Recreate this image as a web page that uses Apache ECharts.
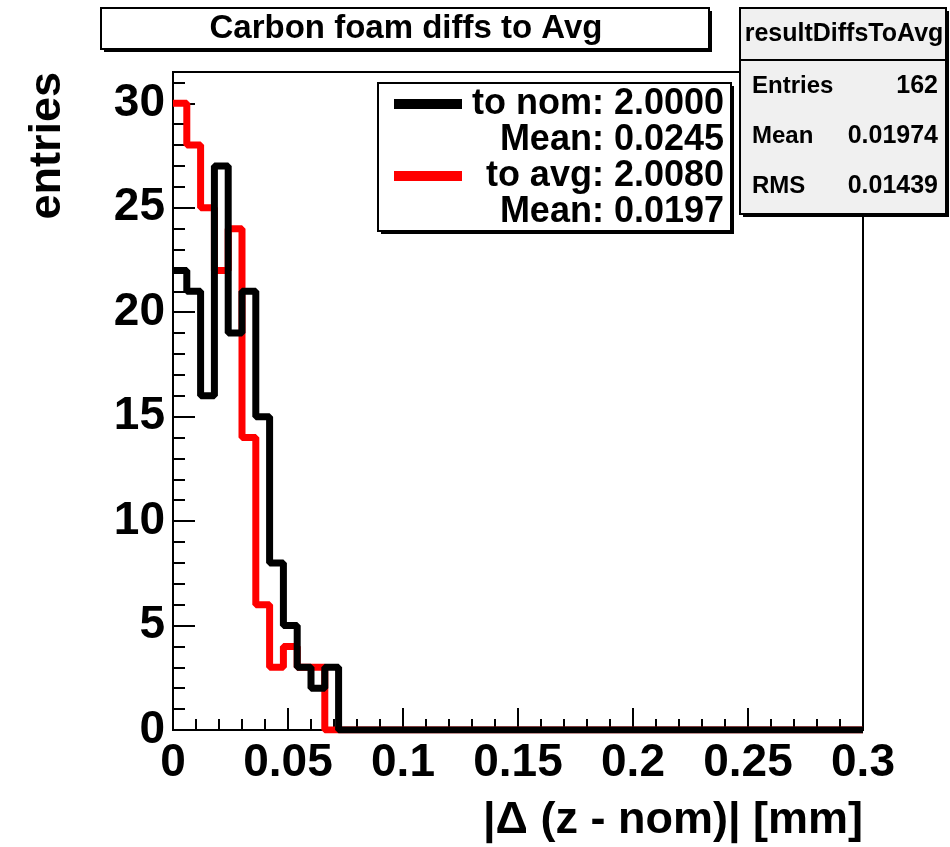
<!DOCTYPE html>
<html>
<head>
<meta charset="utf-8">
<script src="https://cdn.jsdelivr.net/npm/echarts@6/dist/echarts.min.js"></script>
<style>
  html, body { margin: 0; padding: 0; background: #fff; }
  #chart { width: 950px; height: 847px; }
</style>
</head>
<body>
<div id="chart"></div>
<script>
// histogram: 50 bins over [0, 0.3]
var binWidth = 0.006;
var xMax = 0.3;
var toNomCounts = [22, 21, 16, 27, 19, 21, 15, 8, 5, 3, 2, 3];
var toAvgCounts = [30, 28, 25, 22, 24, 14, 6, 3, 4, 3, 3];

var titleText = "Carbon foam diffs to Avg";
var legendLines = ["to nom: 2.0000", "Mean: 0.0245", "to avg: 2.0080", "Mean: 0.0197"];
var statsName = "resultDiffsToAvg";
var statsLabels = ["Entries", "Mean", "RMS"];
var statsValues = ["162", "0.01974", "0.01439"];

var FONT = "Liberation Sans";

function stepData(counts) {
  var pts = counts.map(function (c, i) { return [i * binWidth, c]; });
  pts.push([counts.length * binWidth, 0]);
  pts.push([xMax, 0]);
  return pts;
}

function boxWithShadow(x, y, w, h, fill) {
  return [
    { type: "rect", z: 100, shape: { x: x + 3, y: y + 3, width: w, height: h }, style: { fill: "#000" } },
    { type: "rect", z: 101, shape: { x: x, y: y, width: w, height: h }, style: { fill: fill, stroke: "#000", lineWidth: 2 } }
  ];
}

var chart = echarts.init(document.getElementById("chart"));

var graphics = [];
// title box
graphics = graphics.concat(boxWithShadow(101, 8, 608, 41, "#fff"));
graphics.push({ type: "text", z: 102, x: 406, y: 29,
  style: { text: titleText, font: "bold 33px " + FONT, fill: "#000", align: "center", verticalAlign: "middle" } });

// stats box
graphics = graphics.concat(boxWithShadow(740, 8, 206, 206, "#f0f0f0"));
graphics.push({ type: "line", z: 102, shape: { x1: 740, y1: 60, x2: 946, y2: 60 }, style: { stroke: "#000", lineWidth: 2 } });
graphics.push({ type: "text", z: 102, x: 844, y: 34,
  style: { text: statsName, font: "bold 25px " + FONT, fill: "#000", align: "center", verticalAlign: "middle" } });
statsLabels.forEach(function (lab, i) {
  graphics.push({ type: "text", z: 102, x: 752, y: 86 + i * 50,
    style: { text: lab, font: "bold 24px " + FONT, fill: "#000", align: "left", verticalAlign: "middle" } });
  graphics.push({ type: "text", z: 102, x: 938, y: 86 + i * 50,
    style: { text: statsValues[i], font: "bold 25px " + FONT, fill: "#000", align: "right", verticalAlign: "middle" } });
});

// legend box
graphics = graphics.concat(boxWithShadow(378, 83, 353, 148, "#fff"));
graphics.push({ type: "rect", z: 102, shape: { x: 394, y: 99, width: 68, height: 10 }, style: { fill: "#000" } });
graphics.push({ type: "rect", z: 102, shape: { x: 394, y: 171, width: 68, height: 10 }, style: { fill: "#ff0000" } });
legendLines.forEach(function (t, i) {
  graphics.push({ type: "text", z: 102, x: 724, y: 104 + i * 36,
    style: { text: t, font: "bold 36px " + FONT, fill: "#000", align: "right", verticalAlign: "middle" } });
});

var option = {
  animation: false,
  backgroundColor: "#fff",
  textStyle: { fontFamily: FONT },
  grid: {
    left: 173, right: 87, top: 72, bottom: 117,
    containLabel: false,
    outerBoundsMode: "none",
    show: true, borderColor: "#000", borderWidth: 2, backgroundColor: "transparent"
  },
  xAxis: {
    type: "value",
    min: 0, max: xMax, interval: 0.05,
    name: "|Δ (z - nom)| [mm]",
    nameLocation: "end",
    nameGap: 0,
    nameTextStyle: {
      fontFamily: FONT, fontWeight: "bold", fontSize: 45, color: "#000",
      align: "right", verticalAlign: "top", padding: [68, 0, 0, 0]
    },
    axisLine: { show: true, onZero: false, lineStyle: { color: "#000", width: 2 } },
    axisTick: { show: true, inside: true, length: 22, lineStyle: { color: "#000", width: 2 } },
    minorTick: { show: true, splitNumber: 5, length: 11, lineStyle: { color: "#000", width: 2 } },
    splitLine: { show: false },
    axisLabel: {
      color: "#000", fontFamily: FONT, fontWeight: "bold", fontSize: 46, margin: 10,
      formatter: function (v) { return String(+v.toFixed(3)); }
    }
  },
  yAxis: {
    type: "value",
    min: 0, max: 31.5, interval: 5,
    name: "entries",
    nameLocation: "end",
    nameRotate: 90,
    nameGap: 0,
    nameTextStyle: {
      fontFamily: FONT, fontWeight: "bold", fontSize: 45, color: "#000",
      align: "right", verticalAlign: "bottom", padding: [0, 0, 103, 0]
    },
    axisLine: { show: true, onZero: false, lineStyle: { color: "#000", width: 2 } },
    axisTick: { show: true, inside: true, length: 22, lineStyle: { color: "#000", width: 2 } },
    minorTick: { show: true, splitNumber: 5, length: 12, lineStyle: { color: "#000", width: 2 } },
    splitLine: { show: false },
    axisLabel: {
      color: "#000", fontFamily: FONT, fontWeight: "bold", fontSize: 46, margin: 8,
      formatter: function (v) { return v % 5 === 0 ? String(v) : ""; }
    }
  },
  series: [
    {
      name: "to avg",
      type: "line",
      step: "end",
      symbol: "none",
      data: stepData(toAvgCounts),
      lineStyle: { color: "#ff0000", width: 7 },
      z: 2
    },
    {
      name: "to nom",
      type: "line",
      step: "end",
      symbol: "none",
      data: stepData(toNomCounts),
      lineStyle: { color: "#000", width: 7 },
      z: 3
    }
  ],
  graphic: graphics
};

chart.setOption(option);
</script>
</body>
</html>
